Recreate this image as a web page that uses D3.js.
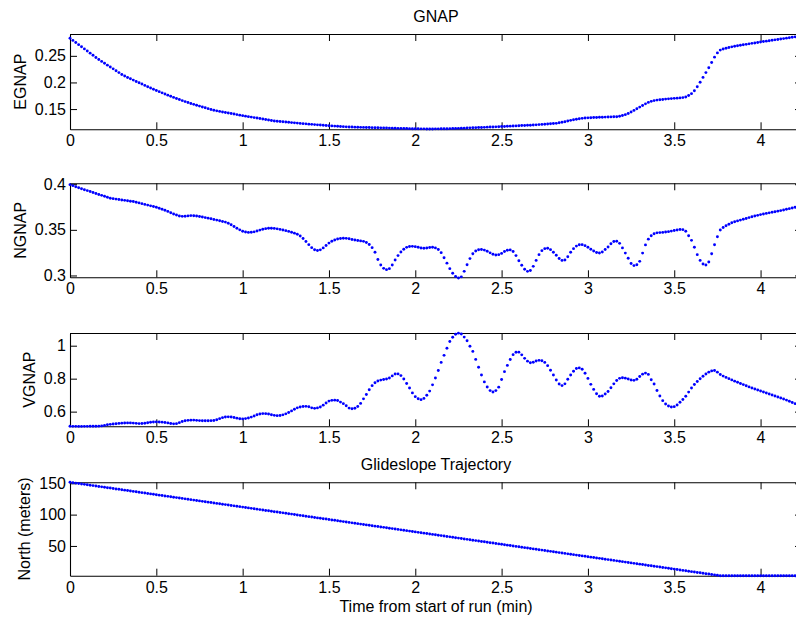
<!DOCTYPE html>
<html>
<head>
<meta charset="utf-8">
<script src="https://cdn.jsdelivr.net/npm/d3@7"></script>
<style>
  html, body { margin: 0; padding: 0; background: #fff; }
  svg { display: block; }
  text { font-family: Arial, "Liberation Sans", Helvetica, sans-serif; fill: #000; }
</style>
</head>
<body>
<script>
// ---- sample grid: one sample per second, time axis in minutes ----
const sampleIntervalSec = 1;

// ---- series values ----
const egnap = [
.283,.279,.275,.271,.267,.263,.259,.255,.251,.247,
.243,.2395,.236,.2325,.229,.2255,.222,.2185,.215,.212,
.2094,.2069,.2044,.2019,.1995,.197,.1945,.192,.1896,.1872,
.1849,.1827,.1805,.1783,.1761,.174,.1719,.1699,.1679,.1659,
.164,.1623,.1606,.1589,.1572,.1556,.154,.1524,.1508,.1493,
.1478,.1467,.1456,.1446,.1436,.1426,.1416,.1406,.1396,.1386,
.1376,.1367,.1358,.1349,.134,.1331,.1322,.1313,.1304,.1295,
.1286,.1277,.1272,.1267,.1262,.1257,.1252,.1246,.1241,.1236,
.1231,.1226,.1222,.1217,.1213,.1208,.1204,.12,.1195,.1191,
.1187,.1184,.118,.1177,.1173,.117,.1166,.1163,.1162,.116,
.1159,.1157,.1156,.1154,.1153,.1151,.115,.1148,.1147,.1146,
.1144,.1143,.1142,.114,.1138,.1137,.1135,.1134,.1132,.1131,
.113,.1129,.1128,.1128,.1127,.1127,.1127,.1128,.1128,.1129,
.113,.1131,.1132,.1134,.1136,.1138,.114,.1142,.1144,.1147,
.1149,.1151,.1153,.1155,.1157,.116,.1162,.1164,.1166,.1169,
.1172,.1174,.1177,.1179,.1182,.1184,.1187,.119,.1192,.1195,
.1197,.12,.1204,.1208,.1212,.1216,.122,.1224,.1228,.1232,
.1242,.1252,.1262,.1275,.1288,.1299,.131,.1319,.1326,.1331,
.1335,.1338,.1341,.1343,.1345,.1347,.1349,.1351,.1353,.1355,
.1357,.1365,.1378,.1395,.1418,.1445,.1475,.1505,.1537,.1568,
.1598,.1625,.1645,.1659,.1668,.1675,.1681,.1687,.1692,.1697,
.1701,.1705,.171,.1715,.1728,.1755,.179,.1845,.192,.2005,
.2095,.2185,.2275,.2375,.2475,.2555,.2608,.2627,.2643,.2657,
.2669,.268,.269,.2699,.2708,.2716,.2725,.2734,.2742,.2751,
.276,.2768,.2776,.2784,.2792,.28,.2808,.2816,.2824,.2832,
.284,.2848,.2856
];

const ngnap = [
.3995,.3984,.3973,.3962,.3951,.394,.393,.392,.391,.3898,
.3888,.3878,.3868,.3857,.3847,.3842,.3837,.3832,.3827,.3823,
.3818,.3814,.381,.3803,.3795,.3787,.3779,.3771,.3763,.3755,
.3748,.3737,.3726,.3714,.3702,.3688,.3674,.3662,.3652,.3648,
.3649,.3653,.3656,.3655,.3651,.3646,.364,.3634,.3628,.3621,
.3614,.3607,.3599,.3592,.3585,.3572,.3555,.3537,.3518,.35,
.3485,.3476,.3472,.3473,.3478,.3487,.3497,.3506,.3513,.3517,
.3518,.3516,.3511,.3505,.3498,.3491,.3483,.3474,.3464,.3451,
.3433,.3405,.3372,.3338,.3305,.3282,.3273,.3281,.3302,.3329,
.3355,.3375,.3389,.3399,.3405,.3408,.3407,.3402,.3395,.3388,
.3383,.3379,.3374,.3362,.334,.3305,.3255,.3175,.3115,.3078,
.3064,.3075,.3115,.317,.3218,.3258,.3288,.3308,.3317,.3319,
.3316,.3309,.3301,.3298,.3301,.3306,.3309,.3302,.3285,.325,
.3195,.3135,.3075,.3025,.2988,.2973,.2985,.3045,.3118,.3185,
.3238,.3268,.3282,.3284,.3278,.3265,.3248,.3233,.3225,.3228,
.3242,.3262,.3276,.328,.3262,.3218,.3162,.3112,.3068,.3045,
.3055,.31,.3165,.3228,.3272,.3294,.3298,.3283,.3255,.3222,
.3186,.3165,.317,.3205,.3254,.3294,.3322,.3336,.3338,.3327,
.3309,.3288,.3268,.3252,.3247,.3258,.3284,.3312,.3348,.3372,
.3375,.3352,.3302,.3245,.3188,.3132,.3108,.3118,.3155,.3245,
.3335,.3398,.3436,.3458,.3467,.347,.3472,.3476,.348,.3486,
.3493,.3499,.3503,.3502,.3485,.3435,.3385,.331,.3228,.3165,
.3125,.3115,.3148,.3238,.3336,.3425,.3498,.3525,.3545,.3562,
.3577,.3588,.3598,.3607,.3616,.3625,.3634,.3643,.3651,.3659,
.3667,.3674,.368,.3686,.3692,.3698,.3705,.3711,.3718,.3725,
.3732,.374,.3748
];

const vgnap = [
.511,.5108,.5106,.5105,.5105,.5106,.5108,.511,.5112,.5114,
.5118,.5135,.5165,.52,.5228,.525,.5268,.5285,.53,.531,
.5316,.5315,.5305,.5288,.5275,.5278,.5298,.5328,.5358,.5375,
.5378,.5372,.5362,.5345,.5315,.528,.5258,.527,.533,.5398,
.5448,.5472,.5483,.5485,.5472,.5456,.5448,.5448,.545,.5452,
.5462,.5505,.5575,.5635,.567,.5683,.5675,.5645,.5605,.5568,
.5558,.5578,.5618,.5668,.5738,.5808,.5858,.588,.5878,.5852,
.5812,.5775,.5757,.5765,.5805,.5865,.5948,.6045,.6145,.6228,
.6282,.6312,.632,.6295,.6228,.6198,.6225,.6285,.6392,.6525,
.6638,.6685,.6695,.6675,.6578,.6485,.6358,.6215,.6172,.6205,
.6315,.6498,.6775,.7035,.733,.7575,.7755,.7862,.7912,.7945,
.7975,.8042,.8168,.8285,.829,.8185,.7978,.771,.7436,.7135,
.6908,.6778,.6728,.6802,.6998,.7245,.7625,.804,.8495,.8985,
.9415,.9842,1.0255,1.051,1.069,1.076,1.071,1.052,1.03,.9968,
.9655,.9168,.8692,.8222,.7805,.7495,.7275,.7195,.7275,.7485,
.7945,.8425,.8805,.9158,.9458,.9605,.9608,.9445,.9232,.9062,
.8968,.8992,.9072,.911,.9085,.8985,.8788,.8508,.8218,.7915,
.7675,.7578,.7685,.7962,.8218,.8448,.8615,.8652,.8572,.8325,
.8015,.7655,.7348,.7085,.6932,.6948,.7065,.7218,.7445,.7685,
.7888,.8018,.8055,.8032,.7978,.7915,.7898,.7965,.8128,.8275,
.8338,.8258,.7935,.7678,.7285,.6945,.6665,.6462,.6338,.6285,
.6302,.6405,.6565,.6735,.6935,.7185,.7435,.7645,.7825,.7995,
.8148,.8285,.8395,.8472,.8495,.8395,.825,.8155,.8075,.8,
.7925,.785,.778,.771,.764,.757,.75,.7438,.7376,.7314,
.7252,.719,.713,.707,.701,.695,.689,.683,.677,.67,
.663,.6558,.6485
];

const northMeters = [
151.6,150.9,150.3,149.6,149.0,148.3,147.6,147.0,146.3,145.7,
145.0,144.3,143.7,143.0,142.4,141.7,141.0,140.4,139.7,139.1,
138.4,137.7,137.1,136.4,135.8,135.1,134.4,133.8,133.1,132.5,
131.8,131.1,130.5,129.8,129.2,128.5,127.8,127.2,126.5,125.9,
125.2,124.5,123.9,123.2,122.6,121.9,121.2,120.6,119.9,119.3,
118.6,117.9,117.3,116.6,116.0,115.3,114.6,114.0,113.3,112.7,
112.0,111.3,110.7,110.0,109.4,108.7,108.0,107.4,106.7,106.1,
105.4,104.7,104.1,103.4,102.8,102.1,101.4,100.8,100.1,99.5,
98.8,98.1,97.5,96.8,96.2,95.5,94.8,94.2,93.5,92.9,
92.2,91.5,90.9,90.2,89.6,88.9,88.2,87.6,86.9,86.3,
85.6,84.9,84.3,83.6,83.0,82.3,81.6,81.0,80.3,79.7,
79.0,78.3,77.7,77.0,76.4,75.7,75.0,74.4,73.7,73.1,
72.4,71.7,71.1,70.4,69.8,69.1,68.4,67.8,67.1,66.5,
65.8,65.1,64.5,63.8,63.2,62.5,61.8,61.2,60.5,59.9,
59.2,58.5,57.9,57.2,56.6,55.9,55.2,54.6,53.9,53.3,
52.6,51.9,51.3,50.6,50.0,49.3,48.6,48.0,47.3,46.7,
46.0,45.3,44.7,44.0,43.4,42.7,42.0,41.4,40.7,40.1,
39.4,38.7,38.1,37.4,36.8,36.1,35.4,34.8,34.1,33.5,
32.8,32.1,31.5,30.8,30.2,29.5,28.8,28.2,27.5,26.9,
26.2,25.5,24.9,24.2,23.6,22.9,22.2,21.6,20.9,20.3,
19.6,18.9,18.3,17.6,17.0,16.3,15.6,15.0,14.3,13.7,
13.0,12.3,11.7,11.0,10.4,9.7,9.0,8.4,7.7,7.1,
6.4,5.7,5.1,4.4,3.8,3.1,2.5,2.5,2.5,2.5,
2.5,2.5,2.5,2.5,2.5,2.5,2.5,2.5,2.5,2.5,
2.5,2.5,2.5,2.5,2.5,2.5,2.5,2.5,2.5,2.5,
2.5,2.5,2.5
];

// ---- axis ranges and tick labels ----
const xDomain = [0, 4.24];
const xTicks = [0, 0.5, 1, 1.5, 2, 2.5, 3, 3.5, 4];
const xTickLabels = ["0", "0.5", "1", "1.5", "2", "2.5", "3", "3.5", "4"];

const egnapDomain = [0.112, 0.291];
const egnapTicks = [0.15, 0.2, 0.25];
const egnapTickLabels = ["0.15", "0.2", "0.25"];

const ngnapDomain = [0.298, 0.401];
const ngnapTicks = [0.3, 0.35, 0.4];
const ngnapTickLabels = ["0.3", "0.35", "0.4"];

const vgnapDomain = [0.511, 1.077];
const vgnapTicks = [0.6, 0.8, 1];
const vgnapTickLabels = ["0.6", "0.8", "1"];

const northDomain = [2.5, 151.6];
const northTicks = [50, 100, 150];
const northTickLabels = ["50", "100", "150"];

const titles = ["GNAP", "", "", "Glideslope Trajectory"];
const yLabels = ["EGNAP", "NGNAP", "VGNAP", "North (meters)"];
const xLabel = "Time from start of run (min)";

// ---- layout ----
const W = 796, H = 619;
const left = 70, right = 802;
const fontSize = 16;
const tickLen = 7;

const panels = [
  { values: egnap, domain: egnapDomain, ticks: egnapTicks, labels: egnapTickLabels, top: 34, bottom: 129.3, ylx: 26 },
  { values: ngnap, domain: ngnapDomain, ticks: ngnapTicks, labels: ngnapTickLabels, top: 183.3, bottom: 277.3, ylx: 26 },
  { values: vgnap, domain: vgnapDomain, ticks: vgnapTicks, labels: vgnapTickLabels, top: 333, bottom: 426.3, ylx: 35 },
  { values: northMeters, domain: northDomain, ticks: northTicks, labels: northTickLabels, top: 482.3, bottom: 575.7, ylx: 30 }
];

const svg = d3.select("body").append("svg")
  .attr("width", W).attr("height", H)
  .attr("viewBox", `0 0 ${W} ${H}`);
svg.append("rect").attr("width", W).attr("height", H).attr("fill", "#fff");

const x = d3.scaleLinear().domain(xDomain).range([left, right]);

function styleAxis(g) {
  g.selectAll("path.domain").attr("stroke", "#000").attr("stroke-width", 1.1);
  g.selectAll(".tick line").attr("stroke", "#000").attr("stroke-width", 1);
  g.selectAll("text").attr("font-size", fontSize).attr("font-family", "Arial, 'Liberation Sans', sans-serif").attr("fill", "#000");
}

panels.forEach((p, k) => {
  const y = d3.scaleLinear().domain(p.domain).range([p.bottom, p.top]);
  const g = svg.append("g");

  // bottom axis (labels)
  g.append("g")
    .attr("transform", `translate(0,${p.bottom})`)
    .call(d3.axisBottom(x).tickValues(xTicks)
      .tickFormat((d, i) => xTickLabels[i])
      .tickSizeInner(-tickLen).tickSizeOuter(0).tickPadding(5.5))
    .call(styleAxis);

  // top axis (ticks only)
  g.append("g")
    .attr("transform", `translate(0,${p.top})`)
    .call(d3.axisTop(x).tickValues(xTicks).tickFormat("")
      .tickSizeInner(-tickLen).tickSizeOuter(0))
    .call(styleAxis);

  // left axis (labels)
  g.append("g")
    .attr("transform", `translate(${left},0)`)
    .call(d3.axisLeft(y).tickValues(p.ticks)
      .tickFormat((d, i) => p.labels[i])
      .tickSizeInner(-tickLen).tickSizeOuter(0).tickPadding(4))
    .call(styleAxis);

  // right axis (ticks only)
  g.append("g")
    .attr("transform", `translate(${right},0)`)
    .call(d3.axisRight(y).tickValues(p.ticks).tickFormat("")
      .tickSizeInner(-tickLen).tickSizeOuter(0))
    .call(styleAxis);

  // y label
  g.append("text")
    .attr("transform", `translate(${p.ylx},${(p.top + p.bottom) / 2}) rotate(-90)`)
    .attr("text-anchor", "middle")
    .attr("font-size", fontSize)
    .text(yLabels[k]);

  // title
  if (titles[k]) {
    g.append("text")
      .attr("x", (left + right) / 2)
      .attr("y", p.top - 12)
      .attr("text-anchor", "middle")
      .attr("font-size", fontSize)
      .text(titles[k]);
  }

  // data markers
  g.append("g").selectAll("circle")
    .data(p.values)
    .join("circle")
    .attr("cx", (d, i) => x(i * sampleIntervalSec / 60))
    .attr("cy", d => y(d))
    .attr("r", 1.45)
    .attr("fill", "#0000ff");
});

// x label
svg.append("text")
  .attr("x", (left + right) / 2)
  .attr("y", 611.5)
  .attr("text-anchor", "middle")
  .attr("font-size", fontSize)
  .text(xLabel);
</script>
</body>
</html>
